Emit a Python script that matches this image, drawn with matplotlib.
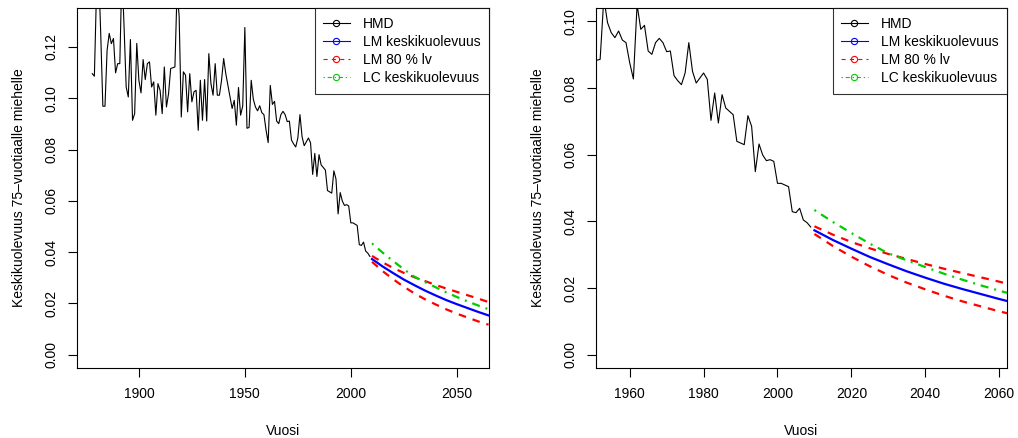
import matplotlib
matplotlib.use("Agg")
import matplotlib.pyplot as plt
from matplotlib.lines import Line2D

plt.rcParams['font.family'] = ['Liberation Sans', 'DejaVu Sans']
plt.rcParams['lines.scale_dashes'] = False

# ---- data ----
hmd_years = list(range(1878, 2010))
hmd_rate = [
    0.1096, 0.1086, 0.1420, 0.1500, 0.1250, 0.0969, 0.0969, 0.1187, 0.1253, 0.1213,  # 1878-1887
    0.1233, 0.1099, 0.1135, 0.1135, 0.1500, 0.1280, 0.1044, 0.1005, 0.1229, 0.0914,  # 1888-1897
    0.0940, 0.1214, 0.1070, 0.1021, 0.1151, 0.1073, 0.1135, 0.1142, 0.1044, 0.1064,  # 1898-1907
    0.0934, 0.1057, 0.1031, 0.0940, 0.1122, 0.0966, 0.1018, 0.1116, 0.1119, 0.1122,  # 1908-1917
    0.1420, 0.1320, 0.0927, 0.1103, 0.1090, 0.0947, 0.1096, 0.0986, 0.1025, 0.1031,  # 1918-1927
    0.0875, 0.1070, 0.0914, 0.1073, 0.0911, 0.1174, 0.1057, 0.1012, 0.1135, 0.1012,  # 1928-1937
    0.1012, 0.1070, 0.1155, 0.1096, 0.1051, 0.1005, 0.0960, 0.0992, 0.0895, 0.1042,  # 1938-1947
    0.0934, 0.0970, 0.1276, 0.0883, 0.0886, 0.1070, 0.0996, 0.0966, 0.0951, 0.0971,  # 1948-1957
    0.0944, 0.0936, 0.0876, 0.0827, 0.1050, 0.0976, 0.0988, 0.0911, 0.0901, 0.0936,  # 1958-1967
    0.0949, 0.0936, 0.0909, 0.0911, 0.0837, 0.0822, 0.0810, 0.0845, 0.0936, 0.0850,  # 1968-1977
    0.0815, 0.0830, 0.0845, 0.0826, 0.0703, 0.0785, 0.0695, 0.0780, 0.0740, 0.0730,  # 1978-1987
    0.0720, 0.0640, 0.0635, 0.0630, 0.0717, 0.0685, 0.0549, 0.0632, 0.0599, 0.0582,  # 1988-1997
    0.0585, 0.0580, 0.0514, 0.0514, 0.0509, 0.0504, 0.0429, 0.0426, 0.0439, 0.0404,  # 1998-2007
    0.0396, 0.0383,                                                                  # 2008-2009
]

fc_years = [2010, 2015, 2020, 2025, 2030, 2035, 2040, 2045, 2050, 2055, 2060, 2065]
lm_mean = [0.0373, 0.0344, 0.0318, 0.0293, 0.0271, 0.0250, 0.0231, 0.0213, 0.0197, 0.0182, 0.0167, 0.0153]
lm_upper = [0.0385, 0.0360, 0.0338, 0.0319, 0.0302, 0.0287, 0.0272, 0.0258, 0.0245, 0.0232, 0.0219, 0.0205]
lm_lower = [0.0362, 0.0326, 0.0294, 0.0265, 0.0239, 0.0216, 0.0196, 0.0177, 0.0160, 0.0145, 0.0130, 0.0117]
lc_mean = [0.0434, 0.0398, 0.0365, 0.0333, 0.0304, 0.0283, 0.0263, 0.0243, 0.0225, 0.0208, 0.0192, 0.0177]

legend_labels = ["HMD", "LM keskikuolevuus", "LM 80 % lv", "LC keskikuolevuus"]
ylabel = "Keskikuolevuus 75\u2013vuotiaalle miehelle"
xlabel = "Vuosi"

left_xticks = [1900, 1950, 2000, 2050]
left_yticks = [0.00, 0.02, 0.04, 0.06, 0.08, 0.10, 0.12]
right_xticks = [1960, 1980, 2000, 2020, 2040, 2060]
right_yticks = [0.00, 0.02, 0.04, 0.06, 0.08, 0.10]

# ---- styles ----
BLUE = "#0000FF"
RED = "#FF0000"
GREEN = "#00CD00"
red_dash = (0, (5.5, 5.0))
green_dd = (0, (1.4, 4.3, 5.8, 4.3))
FS = 10

fig = plt.figure(figsize=(10.18, 4.38), dpi=100)
ax1 = fig.add_axes([77/1018, 1-368/438, (489-77)/1018, 360/438])
ax2 = fig.add_axes([596/1018, 1-368/438, (1007-596)/1018, 360/438])


def r_pad(lo, hi):
    d = (hi - lo) * 0.04
    return lo - d, hi + d


def draw(ax, xlim, ylim, xticks, yticks):
    ax.plot(hmd_years, hmd_rate, color="black", lw=0.8)
    ax.plot(fc_years, lm_mean, color=BLUE, lw=1.6)
    ax.plot(fc_years, lm_upper, color=RED, lw=1.6, linestyle=red_dash)
    ax.plot(fc_years, lm_lower, color=RED, lw=1.6, linestyle=red_dash)
    ax.plot(fc_years, lc_mean, color=GREEN, lw=1.6, linestyle=green_dd)
    ax.set_xlim(*r_pad(*xlim))
    ax.set_ylim(*r_pad(*ylim))
    ax.set_xticks(xticks)
    ax.set_xticklabels([str(t) for t in xticks])
    ax.set_yticks(yticks)
    ax.set_yticklabels(["%.2f" % t for t in yticks])
    ax.tick_params(axis='both', direction='out', length=6.5, width=0.8,
                   labelsize=FS, color='black')
    ax.tick_params(axis='x', pad=7)
    ax.tick_params(axis='y', pad=7)
    for lab in ax.get_yticklabels():
        lab.set_rotation(90)
        lab.set_va('center')
        lab.set_ha('right')
    for sp in ax.spines.values():
        sp.set_linewidth(0.8)
        sp.set_color('black')
    ax.set_xlabel(xlabel, fontsize=FS, labelpad=17)
    ax.set_ylabel(ylabel, fontsize=FS, labelpad=13)
    handles = [
        Line2D([], [], color='black', lw=0.8, marker='o', mfc='none', ms=4.5, mew=0.8),
        Line2D([], [], color=BLUE, lw=0.8, marker='o', mfc='none', ms=4.5, mew=0.8),
        Line2D([], [], color=RED, lw=0.8, ls=(0, (3, 3)), marker='o', mfc='none', ms=4.5, mew=0.8),
        Line2D([], [], color=GREEN, lw=0.8, ls=(0, (1, 2, 3, 2)), marker='o', mfc='none', ms=4.5, mew=0.8),
    ]
    leg = ax.legend(handles, legend_labels, loc='upper right', fontsize=FS,
                    frameon=True, fancybox=False, borderaxespad=0,
                    handlelength=1.9, handletextpad=0.95, labelspacing=0.3,
                    borderpad=0.62)
    leg.get_frame().set_edgecolor('black')
    leg.get_frame().set_linewidth(0.8)


draw(ax1, (1878, 2058), (0, 0.13), left_xticks, left_yticks)
draw(ax2, (1955, 2058), (0, 0.10), right_xticks, right_yticks)

fig.savefig("out.png", dpi=100)
